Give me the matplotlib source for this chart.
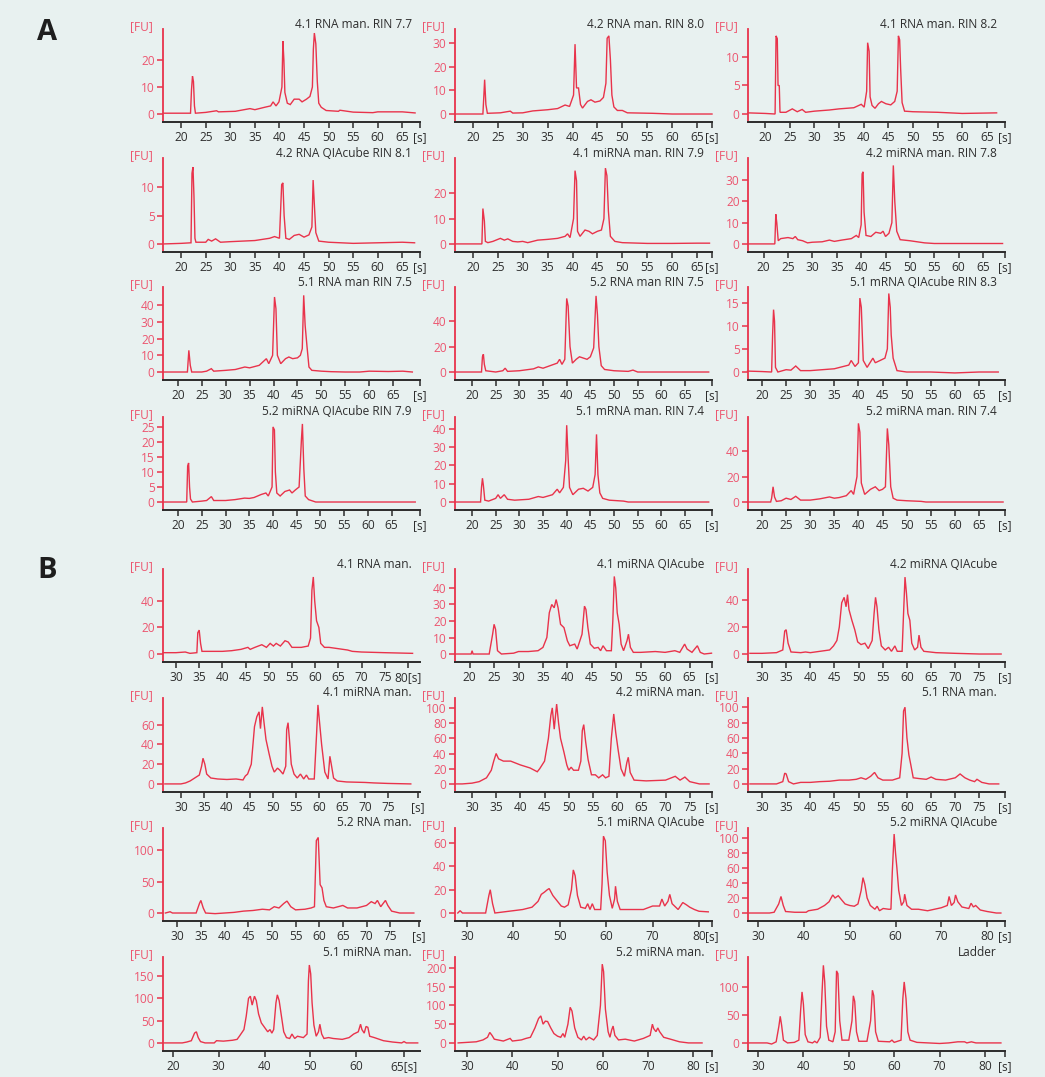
"""Bioanalyzer electropherogram grid: (A) total RNA with RIN, (B) small RNA runs."""

import matplotlib

matplotlib.use("Agg")
import matplotlib.pyplot as plt  # noqa: E402
import numpy as np  # noqa: E402

plt.rcParams["font.family"] = ["Open Sans", "DejaVu Sans"]

BG = "#e8f1f0"
TRACE_RED = "#e8334b"
LABEL_RED = "#ec5670"
AXIS_DARK = "#2b2b2b"
TEXT_DARK = "#2e2e2e"

# -- Panel A traces: (time [s], fluorescence [FU]) --------------------------
A1_TRACE = [(16.5, 0.3), (21.9, 0.3), (22.1, 9), (22.3, 14), (22.5, 12), (22.7, 3), (22.9, 0.3),
            (25, 0.6), (27.2, 1.2), (27.6, 0.8), (31, 1), (34, 2), (35, 1.6), (37, 2.5), (38.2, 3),
            (38.7, 4.5), (39.3, 3), (39.9, 4.5), (40.5, 10), (40.7, 27), (40.9, 20), (41.1, 8),
            (41.6, 4), (42.2, 3.5), (43, 5.5), (44, 5.5), (44.6, 4.5), (45.5, 5.5), (46.2, 6.5),
            (46.7, 10), (46.9, 24), (47.1, 30), (47.4, 26), (47.7, 12), (48, 4), (48.5, 2.5),
            (49.5, 1.3), (52, 1), (52.3, 1.4), (55, 0.7), (59, 0.5), (60, 0.8), (65, 0.8), (67.6, 0.4)]
A2_TRACE = [(16.5, 0), (22.0, 0), (22.2, 8), (22.35, 14.5), (22.6, 4), (22.9, 0.3), (25.5, 0.5),
            (27.5, 1.2), (28, 0.4), (30, 0.5), (32, 1.3), (35, 1.8), (37, 2.3), (38.5, 3.8),
            (39.4, 3.2), (40.2, 8), (40.5, 29.5), (40.8, 11), (41.2, 11), (41.6, 4), (42, 2.5),
            (43, 5.3), (43.7, 6), (44.5, 5), (45.5, 5.5), (46.2, 7), (46.7, 13), (46.95, 32),
            (47.3, 33), (47.6, 23), (47.9, 8), (48.3, 3), (49, 1.5), (50, 1.5), (51, 0.5),
            (56, 0.3), (60, 0), (68, 0)]
A3_TRACE = [(16.5, 0.2), (20, 0.1), (22, 0), (22.2, 13.7), (22.45, 13.2), (22.6, 5), (22.85, 5),
            (23, 0.3), (24.2, 0.3), (25.5, 0.9), (26.5, 0.4), (27.5, 0.8), (28.2, 0.3), (30, 0.5),
            (33, 0.7), (35, 0.9), (38, 1.1), (39.5, 1.7), (40.1, 1.2), (40.6, 4), (40.8, 12.5),
            (41.1, 11), (41.3, 3), (41.7, 1.5), (42.3, 1), (43, 1.8), (43.6, 2.2), (44.5, 1.8),
            (45.5, 1.6), (46.3, 2.2), (46.8, 4), (47.05, 13.7), (47.3, 13), (47.5, 8), (47.8, 2),
            (48.3, 0.5), (50, 0.4), (55, 0.3), (60, 0.1), (67, 0.2)]
A4_TRACE = [(16.5, 0), (20, 0.1), (22, 0.2), (22.2, 12.5), (22.4, 13.6), (22.6, 8.5), (22.8, 1),
            (23, 0.3), (25, 0.3), (25.5, 0.8), (26.2, 0.5), (27, 0.9), (28, 0.3), (30, 0.4),
            (35, 0.6), (38, 1), (39, 1.3), (40, 1), (40.45, 10.5), (40.7, 10.8), (40.95, 5),
            (41.3, 1), (42, 0.8), (43, 1.5), (44, 1.7), (45, 1.2), (46, 1.6), (46.6, 3),
            (46.85, 11.3), (47.1, 7), (47.4, 2), (48, 0.5), (50, 0.3), (55, 0.1), (60, 0.2),
            (65, 0.3), (67.5, 0.2)]
A5_TRACE = [(16.5, 0), (21.8, 0), (22.0, 14), (22.3, 9), (22.5, 1), (23, 0.5), (24, 1), (25.5, 2.2),
            (26.3, 1.5), (27, 2), (28, 1), (29, 0.8), (30, 1), (31, 0.5), (33, 1.5), (35, 1.8),
            (37, 2.2), (38.5, 3), (39, 4), (39.5, 2.5), (40.2, 10), (40.5, 29), (40.8, 25), (41, 5),
            (41.5, 3), (42.5, 5.5), (43.3, 5), (44, 4), (45, 5), (45.8, 5.5), (46.3, 10), (46.6, 30),
            (46.9, 27), (47.2, 13), (47.6, 3), (48.5, 1), (50, 0.5), (55, 0.2), (60, 0.2), (65, 0.3),
            (67.5, 0.3)]
A6_TRACE = [(16.8, 0), (22.3, 0), (22.5, 14), (22.7, 10), (23, 1.5), (23.5, 2.5), (25, 3), (26, 2.5),
            (26.5, 3.5), (27, 2), (28, 1.5), (29, 0.5), (30, 0.8), (32, 1), (33.5, 1.8), (34.5, 1.2),
            (36, 1.8), (38, 2.5), (39, 4), (39.5, 3), (40, 9), (40.2, 33), (40.4, 34), (40.6, 15),
            (41, 4), (42, 3.5), (43, 5.5), (44, 5), (44.5, 6), (45, 3.5), (45.7, 5), (46.3, 10),
            (46.6, 37), (46.9, 20), (47.3, 6), (48, 2), (50, 1.5), (53, 0.5), (55, 0.2), (69, 0.2)]
A7_TRACE = [(17, 0), (22, 0), (22.3, 13), (22.6, 4), (22.9, 0), (25, 0), (26, 0.5), (27, 2),
            (27.5, 0.5), (30, 1), (32, 1.5), (34, 3), (35, 2.5), (37, 4), (38.5, 8), (39, 5),
            (39.8, 10), (40.2, 45), (40.5, 38), (40.8, 10), (41.5, 5), (42.5, 8), (43.2, 9), (44, 8),
            (45, 8.5), (45.6, 10), (46, 14), (46.3, 46), (46.6, 28), (47, 15), (47.4, 3), (48, 1),
            (50, 0.5), (52, 0.2), (55, 0), (58, 0), (60, 0.5), (64, 0.3), (67, 0.5), (69, 0)]
A8_TRACE = [(16.5, 0), (22, 0), (22.2, 12), (22.4, 14), (22.6, 6), (22.9, 1), (25, 0), (26.5, 1),
            (27, 3), (27.5, 0.5), (30, 1), (33, 2.5), (34, 4), (35, 3), (36.5, 5), (38, 7),
            (38.5, 10), (39, 6), (39.6, 10), (40, 58), (40.3, 52), (40.7, 20), (41.2, 7), (42, 10),
            (42.7, 12), (43.5, 11), (44.3, 10), (45, 12), (45.7, 19), (46.2, 60), (46.5, 45),
            (46.8, 20), (47.3, 5), (48, 2), (50, 1), (53, 0.5), (54, 1.5), (55, 0), (70, 0)]
A9_TRACE = [(17, 0.2), (20, 0.1), (22, 0), (22.2, 8), (22.4, 13.5), (22.6, 11), (22.8, 1),
            (23.3, 0), (25, 0.5), (26, 0.4), (27, 1.3), (28, 0.3), (30, 0.3), (35, 0.7), (38, 1.5),
            (38.5, 2.5), (39.3, 1.2), (40, 2), (40.3, 16), (40.6, 14), (41, 2.5), (41.8, 1), (43, 3),
            (43.5, 2), (44.5, 2.5), (45.5, 3), (46, 5), (46.3, 17), (46.6, 14), (46.8, 8), (47.2, 3),
            (48, 0.3), (50, 0), (55, 0), (60, -0.2), (65, 0), (69, 0)]
A10_TRACE = [(17, 0), (21.8, 0), (22, 12), (22.2, 13), (22.4, 5), (22.6, 1), (23, 0), (25, 0.3),
             (26, 0.5), (27, 1.8), (27.5, 0.5), (30, 0.5), (32, 0.8), (34, 1.3), (35, 1.2),
             (36, 1.5), (37.5, 2.5), (38.5, 3), (39, 2), (39.8, 5), (40, 25), (40.3, 24), (40.5, 10),
             (40.8, 3), (41.5, 2), (42.5, 3.5), (43.5, 4), (44, 3), (44.7, 4), (45.5, 5), (46, 21),
             (46.2, 26), (46.5, 11), (46.8, 2), (47.5, 0.8), (49, 0), (70, 0)]
A11_TRACE = [(16.5, 0), (21.8, 0), (22, 8), (22.2, 13), (22.4, 9), (22.7, 1), (23.5, 0.5), (25, 2),
             (25.5, 4), (26, 2), (26.8, 4), (27.5, 1.5), (29, 1), (32, 1.5), (34, 3), (35, 2.5),
             (37, 4), (38, 7), (38.5, 5), (39.3, 8), (39.8, 23), (40, 42), (40.3, 24), (40.6, 8),
             (41.3, 4), (42.5, 7), (43.5, 7.5), (44.5, 6), (45.5, 8), (46, 15), (46.3, 37),
             (46.6, 15), (47, 5), (47.6, 2), (49, 1), (52, 0.5), (53, 0), (70, 0)]
A12_TRACE = [(17, 0), (21.8, 0), (22, 3), (22.3, 12), (22.6, 4), (23, 0.5), (24, 1), (25, 3),
             (26, 2), (27, 4.5), (28, 1.5), (30, 1.5), (32, 2.5), (34, 4), (35, 3), (36, 3.5),
             (37.5, 5), (38.5, 9), (39, 6), (39.7, 20), (40, 62), (40.3, 55), (40.6, 15), (41.3, 6),
             (42.5, 10), (43.5, 12), (44.3, 9), (45, 10), (45.6, 12), (46, 58), (46.3, 45),
             (46.7, 12), (47.2, 3), (48, 1.5), (50, 1), (53, 0.5), (54, 0), (70, 0)]

A_TITLES = ["4.1 RNA man. RIN 7.7", "4.2 RNA man. RIN 8.0", "4.1 RNA man. RIN 8.2",
            "4.2 RNA QIAcube RIN 8.1", "4.1 miRNA man. RIN 7.9", "4.2 miRNA man. RIN 7.8",
            "5.1 RNA man RIN 7.5", "5.2 RNA man RIN 7.5", "5.1 mRNA QIAcube RIN 8.3",
            "5.2 miRNA QIAcube RIN 7.9", "5.1 mRNA man. RIN 7.4", "5.2 miRNA man. RIN 7.4"]
A_YTICKS = [[0, 10, 20], [0, 10, 20, 30], [0, 5, 10],
            [0, 5, 10], [0, 10, 20], [0, 10, 20, 30],
            [0, 10, 20, 30, 40], [0, 20, 40], [0, 5, 10, 15],
            [0, 5, 10, 15, 20, 25], [0, 10, 20, 30, 40], [0, 20, 40]]
A_YTOP = [31.5, 35.9, 14.9, 15.2, 34, 40.5, 51, 67, 18.4, 28.3, 46.5, 67]
A_XLIM = [(16.3, 68.6), (16.4, 68.0), (16.5, 68.7),
          (16.3, 68.6), (16.4, 68.0), (16.8, 69.5),
          (16.9, 70.6), (16.4, 70.7), (17.1, 70.4),
          (16.8, 71.0), (16.4, 70.7), (17.1, 70.4)]
A_XTICKS = [list(range(20, 70, 5))] * 12
A_XEND = [(xr - 0.05, "[s]") for _, xr in A_XLIM]
A_TRACES = [A1_TRACE, A2_TRACE, A3_TRACE, A4_TRACE, A5_TRACE, A6_TRACE,
            A7_TRACE, A8_TRACE, A9_TRACE, A10_TRACE, A11_TRACE, A12_TRACE]

# -- Panel B traces ---------------------------------------------------------
B1_TRACE = [(27.3, 1), (30, 1), (32, 1.5), (33, 0.5), (34.5, 1), (34.7, 16), (35, 18), (35.3, 8),
            (35.6, 2), (38, 2), (40, 2), (42, 2.5), (44, 3.5), (45.5, 5), (46, 3.5), (47, 5),
            (48.5, 7), (49.5, 5), (50.3, 8), (51, 6), (51.6, 8), (52.5, 6), (53.5, 10), (54.2, 9),
            (55, 5), (57, 5), (58.5, 6), (59, 12), (59.3, 48), (59.6, 58), (59.9, 40), (60.3, 25),
            (60.8, 20), (61.2, 8), (62, 5), (63, 5), (65, 4), (67, 3), (68, 2), (70, 1.5), (75, 1),
            (81, 0.5)]
B2_TRACE = [(17, 0), (20.3, 0), (20.5, 2), (20.7, 0), (24, 0), (24.7, 12), (25, 18), (25.3, 15),
            (25.7, 2), (26.5, 0), (29, 0.5), (30, 1.5), (32, 1.5), (34, 2), (35, 4), (35.8, 10),
            (36.3, 25), (36.8, 30), (37.3, 28), (37.7, 33), (38.1, 28), (38.6, 18), (39.3, 16),
            (40, 8), (40.5, 5), (41.5, 6), (42, 3), (43, 12), (43.5, 29), (43.8, 27), (44.2, 16),
            (44.7, 6), (45.5, 3.5), (46.3, 4), (46.8, 2), (47.3, 5), (48, 2), (49, 2), (49.3, 20),
            (49.6, 47), (49.9, 40), (50.2, 25), (50.6, 18), (51, 6), (51.5, 2), (52.2, 8),
            (52.5, 12), (52.9, 4), (53.5, 1), (55, 1), (58, 1.5), (60, 1), (62, 2), (63, 1), (64, 6),
            (64.5, 3), (65.5, 1), (66.6, 5), (67.2, 1), (68, 0), (69.5, 0.5)]
B3_TRACE = [(27.5, 0.5), (30, 0.5), (33, 1), (34.3, 3), (34.7, 17), (35, 18), (35.4, 8), (36, 1.5),
            (38, 1), (39, 1.5), (40, 1), (42, 2), (44, 3), (44.8, 6), (45.5, 10), (46, 20),
            (46.5, 38), (47, 42), (47.4, 35), (47.7, 44), (48, 33), (48.6, 25), (49.2, 18),
            (49.8, 9), (50.5, 7), (51.3, 8), (52, 4), (52.8, 10), (53.2, 30), (53.5, 42), (53.8, 35),
            (54.2, 18), (54.7, 6), (55.5, 3), (56.2, 5), (56.8, 2), (57.5, 6), (58, 2), (59, 2),
            (59.3, 30), (59.6, 57), (59.9, 45), (60.2, 30), (60.6, 25), (61, 8), (61.6, 3),
            (62.2, 5), (62.5, 14), (62.9, 5), (63.5, 2), (66, 1), (70, 0.5), (75, 0), (79.5, 0)]
B4_TRACE = [(26.5, 0), (30, 0), (31, 1), (32, 3), (33, 6), (34, 9), (34.5, 18), (34.8, 26),
            (35.2, 20), (35.6, 10), (36.5, 6), (38, 5), (40, 4.5), (42, 5), (43.5, 4), (44, 8),
            (44.5, 10), (45.3, 20), (46, 58), (46.5, 68), (47, 73), (47.3, 56), (47.7, 78), (48, 65),
            (48.5, 45), (49.2, 30), (49.8, 18), (50.3, 12), (51, 16), (51.5, 14), (52.2, 10),
            (52.8, 18), (53, 55), (53.3, 62), (53.6, 45), (54, 20), (54.6, 10), (55.3, 6), (56, 10),
            (56.7, 5), (57.3, 9), (57.8, 5), (59, 5), (59.5, 50), (59.8, 80), (60.2, 60),
            (60.6, 40), (61.3, 12), (62, 5), (62.4, 28), (62.7, 20), (63.2, 6), (64, 3), (66, 2),
            (70, 1.5), (72, 1), (75, 0.5), (80, 0)]
B5_TRACE = [(26.5, 0), (28, 0), (30, 1), (31.5, 3), (33, 8), (34, 18), (34.5, 30), (35, 40),
            (35.5, 33), (36.5, 30), (38, 30), (40, 25), (42, 21), (43.5, 16), (44, 20), (45, 30),
            (45.8, 60), (46.3, 90), (46.6, 100), (47, 72), (47.5, 105), (47.9, 80), (48.3, 60),
            (49, 42), (49.6, 25), (50, 18), (50.5, 22), (51, 18), (52, 18), (52.5, 30), (52.8, 70),
            (53.1, 78), (53.5, 55), (54, 32), (54.7, 12), (55.5, 12), (56.2, 8), (57, 12),
            (57.6, 8), (58.3, 10), (58.8, 60), (59.3, 92), (59.7, 68), (60.2, 45), (60.8, 20),
            (61.5, 10), (62, 28), (62.3, 35), (62.7, 15), (63.5, 5), (66, 4), (70, 5), (72, 10),
            (73, 5), (74, 9), (75, 3), (77, 0), (79, 0)]
B6_TRACE = [(27.5, 0), (33, 0), (34.3, 3), (34.7, 14), (35, 13), (35.5, 3), (36.5, 0), (38, 2),
            (40, 2), (42, 3), (44, 3.5), (46, 5), (48, 5), (49.5, 6), (50.5, 8), (51.5, 6),
            (52.5, 10), (53.3, 15), (54, 8), (55, 5), (57, 5), (58.5, 8), (59, 40), (59.3, 95),
            (59.6, 100), (60, 60), (60.4, 38), (60.8, 25), (61.3, 8), (62.5, 7), (64, 6), (65, 9),
            (66, 6), (68, 5), (70, 8), (71, 13), (72, 8), (73, 5), (74, 3), (74.5, 6), (75.5, 2),
            (77, 0), (79, 0)]
B7_TRACE = [(27.5, 0), (28.5, 2), (29, 0), (34, 0), (34.7, 15), (35, 20), (35.5, 8), (36, 0),
            (38, -1), (40, 0), (42, 1), (44, 3), (46, 4), (48, 6), (49.5, 5), (50.5, 10), (51.5, 8),
            (52.5, 15), (53.2, 19), (54, 10), (55, 5), (57, 6), (58.3, 8), (59, 10), (59.4, 115),
            (59.8, 120), (60.2, 45), (60.6, 40), (61, 20), (61.5, 10), (63, 8), (65, 12), (66, 8),
            (68, 8), (70, 12), (71, 18), (71.8, 15), (72.3, 20), (73, 10), (74, 20), (74.5, 12),
            (75.3, 3), (77, 0), (80, 0)]
B8_TRACE = [(28, 0), (28.5, 2), (29, 0), (34, 0), (34.7, 15), (35, 20), (35.5, 8), (36, 0), (38, 1),
            (40, 2), (42, 3), (44, 5), (45.3, 10), (46, 16), (46.7, 18), (47.3, 20), (47.7, 21),
            (48.5, 15), (49.5, 10), (50.3, 6), (51, 5), (51.8, 7), (52.5, 20), (52.9, 37),
            (53.3, 32), (53.8, 15), (54.5, 5), (55.5, 4), (56, 8), (56.5, 3), (57, 8), (57.5, 3),
            (58.8, 3), (59.1, 25), (59.4, 66), (59.8, 62), (60.2, 35), (60.7, 15), (61.3, 4),
            (61.8, 12), (62, 23), (62.4, 10), (63, 3), (65, 3), (68, 3), (70, 6), (71.5, 6),
            (72, 12), (72.6, 6), (73.3, 10), (73.7, 16), (74.2, 8), (75.5, 3), (76.5, 9),
            (77.3, 7), (78, 5), (79, 3), (80, 1.5), (82, 1)]
B9_TRACE = [(28, 0), (32.5, 0), (33.5, 1), (34.5, 12), (35, 22), (35.5, 10), (36, 2), (38, 1),
            (40.5, 1), (41, 3), (43, 5), (44.5, 10), (45.5, 15), (46.3, 24), (46.8, 20), (47.5, 23),
            (48.3, 17), (49, 12), (50, 10), (51, 9), (51.8, 12), (52.5, 30), (52.9, 47), (53.3, 38),
            (53.8, 20), (54.5, 10), (55.5, 5), (56, 9), (56.5, 3), (57.3, 6), (58.5, 5), (59, 5),
            (59.3, 55), (59.7, 105), (60, 80), (60.3, 60), (60.7, 30), (61.3, 10), (61.8, 15),
            (62, 25), (62.5, 10), (63.5, 5), (65, 5), (67, 3), (70, 7), (71.3, 10), (71.7, 22),
            (72.2, 10), (72.8, 14), (73.1, 24), (73.6, 15), (74.5, 8), (76, 6), (76.5, 13), (77, 8),
            (77.5, 10), (78.5, 4), (80, 2), (82, 0), (83, 0)]
B10_TRACE = [(18, 0), (22, 0), (23, 2), (24, 5), (24.7, 22), (25.1, 25), (25.5, 12), (26, 3),
             (27, 0), (29, 0), (29.5, 5), (31, 4), (33, 6), (34, 8), (34.5, 15), (35.5, 30),
             (36, 60), (36.5, 100), (36.9, 105), (37.3, 85), (37.8, 105), (38.2, 95), (38.7, 65),
             (39.3, 45), (40, 35), (40.7, 25), (41.2, 30), (41.6, 22), (42, 30), (42.5, 90),
             (42.8, 108), (43.2, 95), (43.7, 60), (44.2, 25), (44.8, 12), (45.5, 10), (46, 20),
             (46.6, 10), (47.2, 15), (48.5, 12), (49.3, 20), (49.6, 140), (49.8, 175), (50.1, 155),
             (50.4, 90), (50.8, 40), (51.3, 15), (51.8, 25), (52.1, 42), (52.5, 20), (53, 10),
             (54, 12), (55, 10), (57, 8), (58.5, 12), (59.5, 20), (60.5, 25), (61, 42), (61.3, 30),
             (61.8, 22), (62.2, 37), (62.6, 35), (63, 15), (64, 12), (66, 5), (68, 2), (70, 0),
             (70.5, 3), (71, 0), (73.5, 0)]
B11_TRACE = [(28, 0), (32, 3), (33.5, 8), (34.5, 15), (35, 28), (35.5, 20), (36, 10), (38, 5),
             (39.5, 12), (40, 5), (42, 8), (43, 12), (44, 15), (45, 40), (45.8, 65), (46.3, 72),
             (46.8, 50), (47.3, 58), (47.8, 57), (48.5, 40), (49.2, 25), (50, 18), (50.7, 15),
             (51.2, 25), (51.6, 15), (52.3, 50), (52.8, 95), (53.2, 85), (53.8, 40), (54.5, 15),
             (55.3, 8), (55.8, 18), (56.3, 8), (57, 15), (58, 8), (58.8, 20), (59.5, 100),
             (59.9, 210), (60.2, 190), (60.6, 90), (61.2, 30), (61.6, 15), (62, 35), (62.3, 45),
             (62.7, 20), (63.5, 8), (65, 10), (67, 5), (69, 12), (70.5, 20), (71, 50), (71.3, 38),
             (71.8, 30), (72.2, 40), (72.6, 30), (73.5, 15), (75, 10), (77, 3), (79, 0), (82, 0)]
B12_TRACE = [(28, 0), (32, 0), (33, -2), (34, 2), (34.6, 30), (34.9, 48), (35.2, 32), (35.6, 5),
             (36.5, 0), (38, 1), (39, 5), (39.4, 60), (39.7, 92), (40, 70), (40.4, 15), (41, 2),
             (42, 0), (42.5, 3), (43, 0), (43.7, 10), (44.1, 90), (44.4, 140), (44.7, 110),
             (45.1, 30), (45.6, 5), (46.5, 2), (47, 20), (47.3, 130), (47.6, 125), (48, 40),
             (48.5, 5), (50, 5), (50.7, 40), (51, 85), (51.3, 75), (51.7, 20), (52.2, 3), (54, 3),
             (54.8, 40), (55.2, 95), (55.5, 85), (55.9, 20), (56.5, 3), (59, 2), (59.5, 5), (60, 1),
             (61.5, 5), (61.9, 80), (62.2, 110), (62.6, 80), (63, 20), (63.5, 5), (65, 1), (70, -1),
             (72, 0), (74, 2), (75.5, 2), (76, 0), (77, 2), (78, 0), (82, 0), (83.5, 0)]

B_TITLES = ["4.1 RNA man.", "4.1 miRNA QIAcube", "4.2 miRNA QIAcube",
            "4.1 miRNA man.", "4.2 miRNA man.", "5.1 RNA man.",
            "5.2 RNA man.", "5.1 miRNA QIAcube", "5.2 miRNA QIAcube",
            "5.1 miRNA man.", "5.2 miRNA man.", "Ladder"]
B_YTICKS = [[0, 20, 40], [0, 10, 20, 30, 40], [0, 20, 40],
            [0, 20, 40, 60], [0, 20, 40, 60, 80, 100], [0, 20, 40, 60, 80, 100],
            [0, 50, 100], [0, 20, 40, 60], [0, 20, 40, 60, 80, 100],
            [0, 50, 100, 150], [0, 50, 100, 150, 200], [0, 50, 100]]
B_YTOP = [64, 51.5, 63, 87, 113, 112, 135, 73, 113, 193, 229, 155]
B_XLIM = [(27.2, 82.6), (17.0, 69.6), (27.1, 80.3),
          (26.1, 82.0), (26.5, 79.6), (27.1, 80.3),
          (27.0, 81.3), (27.4, 82.8), (27.8, 83.9),
          (17.8, 74.0), (27.3, 84.2), (27.8, 84.4)]
B_XTICKS = [list(range(30, 80, 5)), list(range(20, 70, 5)), list(range(30, 80, 5)),
            list(range(30, 80, 5)), list(range(30, 80, 5)), list(range(30, 80, 5)),
            list(range(30, 80, 5)), list(range(30, 90, 10)), list(range(30, 90, 10)),
            list(range(20, 70, 10)), list(range(30, 90, 10)), list(range(30, 90, 10))]
B_XEND = [(80, "80[s]"), (69.5, "[s]"), (80.2, "[s]"),
          (81.6, "[s]"), (79.5, "[s]"), (80.2, "[s]"),
          (81.0, "[s]"), (82.8, "[s]"), (83.8, "[s]"),
          (70.5, "65[s]"), (84.1, "[s]"), (84.3, "[s]")]
B_TRACES = [B1_TRACE, B2_TRACE, B3_TRACE, B4_TRACE, B5_TRACE, B6_TRACE,
            B7_TRACE, B8_TRACE, B9_TRACE, B10_TRACE, B11_TRACE, B12_TRACE]

# -- Layout in pixels of the 1045x1077 canvas --------------------------------
FIG_W, FIG_H = 1045, 1077
COL_LEFT = [163, 455, 748]
COL_W = 257
A_ROWS = [(29, 122), (158, 252), (287, 380), (417, 510)]
B_ROWS = [(569, 662), (698, 792), (828, 921), (957, 1051)]


def draw_panel(fig, rect, trace, title, xlim, xticks, xend, yticks, ytop):
    ax = fig.add_axes(rect)
    ax.set_facecolor("none")
    t, fu = np.array(trace).T
    ax.plot(t, fu, color=TRACE_RED, lw=1.0, solid_joinstyle="miter", clip_on=False)

    ax.set_xlim(*xlim)
    ax.set_ylim(-ytop * 0.094, ytop)
    ax.set_xticks(list(xticks) + [xend[0]])
    ax.set_xticklabels([str(v) for v in xticks] + [xend[1]])
    ax.set_yticks(yticks)

    for side in ("top", "right"):
        ax.spines[side].set_visible(False)
    ax.spines["left"].set_color(TRACE_RED)
    ax.spines["left"].set_linewidth(1.3)
    ax.spines["bottom"].set_color(AXIS_DARK)
    ax.spines["bottom"].set_linewidth(1.4)

    ax.tick_params(axis="x", direction="out", length=4, width=1.1, color=AXIS_DARK,
                   labelcolor=TEXT_DARK, labelsize=8.6, pad=2.5)
    ax.tick_params(axis="y", direction="out", length=4, width=1.1, color=TRACE_RED,
                   labelcolor=LABEL_RED, labelsize=8.6, pad=2)

    h_px = rect[3] * FIG_H
    w_px = rect[2] * FIG_W
    ax.text(-10 / w_px, 1 + 2 / h_px, "[FU]", transform=ax.transAxes, ha="right",
            va="center", color=LABEL_RED, fontsize=8.6)
    ax.text(1 - 8 / w_px, 1 + 5 / h_px, title, transform=ax.transAxes, ha="right",
            va="center", color=TEXT_DARK, fontsize=8.6)
    return ax


def draw_block(fig, rows, traces, titles, xlims, xticks, xends, yticks, ytops):
    for i, trace in enumerate(traces):
        top, bottom = rows[i // 3]
        left = COL_LEFT[i % 3]
        rect = [left / FIG_W, 1 - bottom / FIG_H, COL_W / FIG_W, (bottom - top) / FIG_H]
        draw_panel(fig, rect, trace, titles[i], xlims[i], xticks[i], xends[i],
                   yticks[i], ytops[i])


fig = plt.figure(figsize=(FIG_W / 100, FIG_H / 100), dpi=100, facecolor=BG)

draw_block(fig, A_ROWS, A_TRACES, A_TITLES, A_XLIM, A_XTICKS, A_XEND, A_YTICKS, A_YTOP)
draw_block(fig, B_ROWS, B_TRACES, B_TITLES, B_XLIM, B_XTICKS, B_XEND, B_YTICKS, B_YTOP)

fig.text(47 / FIG_W, 1 - 33 / FIG_H, "A", ha="center", va="center", fontsize=21,
         fontweight="bold", color="#1e1e1e")
fig.text(47 / FIG_W, 1 - 571 / FIG_H, "B", ha="center", va="center", fontsize=21,
         fontweight="bold", color="#1e1e1e")

fig.savefig("out.png", dpi=100, facecolor=BG)
plt.close(fig)
